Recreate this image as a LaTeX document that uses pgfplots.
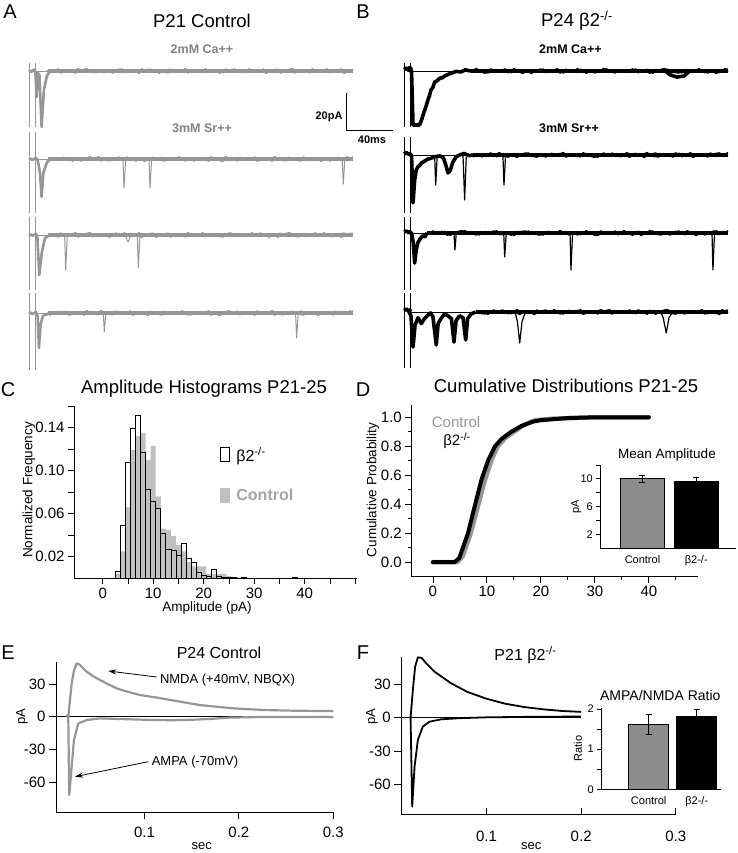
\documentclass[border=0pt]{standalone}
\usepackage{fontspec}
\setmainfont{Liberation Sans}
\usepackage{pgfplots}
\pgfplotsset{compat=1.18}
\usepackage{pgfplotstable}
\usetikzlibrary{arrows.meta}

\definecolor{tg}{RGB}{150,150,150}
\definecolor{lg}{RGB}{130,130,130}
\definecolor{hg}{RGB}{192,192,192}
\definecolor{lcg}{RGB}{165,165,165}
\definecolor{cg}{RGB}{150,150,150}
\definecolor{ig}{RGB}{140,140,140}
\newcommand{\fs}[1]{\fontsize{#1pt}{#1pt}\selectfont}

\pgfplotstableread{
t t2 n1 n2 n3 n4
15 17.5 0.2 -1.3 -0.5 -1.1
20 22.5 -0.8 0.6 0.2 0.4
25 27.5 1.1 -0.3 -1.1 -0.6
30 32.5 -0.4 1.0 0.9 0.9
35 37.5 0.9 -0.8 -0.3 -1.2
40 42.5 -1.2 0.2 1.3 0.2
45 47.5 0.5 -1.2 -0.7 -0.7
50 52.5 1.3 0.9 0.5 1.3
55 57.5 -0.6 -0.4 -1.0 -0.4
60 62.5 0.3 1.3 0.8 -1.0
65 67.5 -1.0 -0.7 0.1 0.6
70 72.5 0.8 -1.0 -1.2 -0.3
75 77.5 -0.2 0.5 1.1 1.1
80 82.5 1.2 -0.2 -0.4 -0.9
85 87.5 -0.9 1.1 0.6 0.5
90 92.5 0.4 -0.9 -0.9 -1.2
95 97.5 -1.3 0.3 1.2 0.8
100 102.5 0.7 -1.3 -0.2 -0.2
105 107.5 1.0 0.7 0.7 1.0
110 112.5 -0.5 -0.5 -1.3 -0.6
115 117.5 0.2 1.0 0.4 -1.1
120 122.5 -1.1 -0.8 1.0 0.7
125 127.5 0.9 -0.1 -0.6 -0.4
130 132.5 -0.3 1.2 0.3 -0.2
135 137.5 1.3 -1.1 -1.1 0.8
140 142.5 -0.7 0.4 0.9 -1.1
145 147.5 0.5 -0.6 -0.5 0.4
150 152.5 -1.0 0.9 1.2 -0.9
155 157.5 0.8 -1.2 -0.8 1.2
160 162.5 0.1 0.2 0.2 -0.5
165 167.5 -1.2 -0.7 -1.0 -1.3
170 172.5 1.1 1.3 0.6 0.6
175 177.5 -0.4 -0.4 1.1 -0.3
180 182.5 0.6 -1.0 -0.7 1.0
185 187.5 -0.9 0.6 0.4 -0.8
190 192.5 1.2 -0.3 0.2 0.2
195 197.5 -0.2 1.1 -0.8 -1.2
200 202.5 0.7 -0.9 1.1 0.9
205 207.5 -1.3 0.5 -0.4 -0.4
210 212.5 0.4 -1.2 0.9 1.3
215 217.5 1.0 0.8 -1.2 -0.7
220 222.5 -0.6 -0.2 0.5 -1.0
225 227.5 0.3 1.0 1.3 0.5
230 232.5 -1.1 -0.6 -0.6 -0.2
235 237.5 0.9 -1.1 0.3 1.1
240 242.5 -0.5 0.7 -1.0 -0.9
245 247.5 1.2 -0.4 0.8 0.3
250 252.5 -0.8 -0.2 -0.2 -1.3
255 257.5 0.2 0.8 1.2 0.7
260 262.5 -1.0 -1.1 -0.9 -0.5
265 267.5 0.6 0.4 0.4 1.0
270 272.5 1.1 -0.9 -1.3 -0.8
275 277.5 -0.7 1.2 0.7 -0.1
280 280 0.4 -0.5 1.0 1.2
}\noise

\pgfplotsset{
  trace/.style={hide axis, x=1.157pt, y=1.915pt, xmin=0, xmax=280, ymin=-40, ymax=20, clip=false, anchor=south west},
  stim/.style={line width=0.8pt},
  bandA/.style={tg, line width=1.1pt, line join=round},
  bandB/.style={black, line width=1.4pt, line join=round},
  flatA/.style={tg, line width=4pt},
  flatB/.style={black, line width=4.4pt},
  earlyA/.style={tg, line width=2.6pt, line join=round},
  earlyB/.style={black, line width=3.6pt, line join=round},
  spkA/.style={tg, line width=1pt, line join=round},
  spkB/.style={black, line width=1.2pt, line join=round},
  panel/.style={anchor=south west, scale only axis, axis lines=left, axis line style={-, line width=1pt},
    every outer x axis line/.append style={-}, every outer y axis line/.append style={-},
    tick style={black, line width=0.8pt}, tick align=outside, major tick length=6pt, minor tick length=3pt,
    ticklabel style={font=\fs{15}}, clip=false},
  inset/.style={anchor=south west, scale only axis, axis lines=left, axis line style={-, line width=1pt},
    every outer x axis line/.append style={-}, every outer y axis line/.append style={-},
    tick style={black, line width=0.8pt}, tick align=outside, major tick length=4pt,
    ticklabel style={font=\fs{11}}, major x tick style={draw=none}, clip=false},
}

\begin{document}
\begin{tikzpicture}[x=1pt,y=1pt]
\path[use as bounding box] (0,0) rectangle (737,853);

% ---------------- Panel A traces ----------------
\begin{axis}[trace, at={(29pt,705.4pt)}]
\addplot[tg, stim] coordinates {(0,4.2) (0,-29.2)};
\addplot[tg, stim] coordinates {(5.8,4.2) (5.8,-29.2)};
\addplot[tg, line width=0.6pt] coordinates {(0,0) (17,0)};
\addplot[earlyA] coordinates {(0,0.5) (2,-0.5) (4,0.8) (5.5,0) (6.6,-13.6) (7.6,-1) (9,-2) (10.9,-29.2) (12.9,-9.9) (15.3,-3) (18,0)};
\addplot[flatA] coordinates {(16,0) (280,0)};
\addplot[bandA] table[x=t,y=n1] {\noise};
\addplot[bandA] table[x=t2,y=n3] {\noise};
\addplot[black, line width=1pt] coordinates {(274.6,-11.3) (274.6,-31.3) (314.6,-31.3)};
\end{axis}

\begin{axis}[trace, at={(29pt,617.4pt)}]
\addplot[tg, stim] coordinates {(0,14.1) (0,-28.2)};
\addplot[tg, stim] coordinates {(5.8,14.1) (5.8,-28.2)};
\addplot[tg, line width=0.6pt] coordinates {(0,0) (17,0)};
\addplot[earlyA] coordinates {(0,0.5) (3,-0.5) (6,0.6) (7.5,-0.5) (9.5,-7.3) (10.9,-19.8) (12.4,-7.3) (15.3,-2.1) (18,0)};
\addplot[flatA] coordinates {(16,0) (280,0)};
\addplot[bandA] table[x=t,y=n2] {\noise};
\addplot[bandA] table[x=t2,y=n4] {\noise};
\addplot[spkA] coordinates {(81.2,0) (82.1,-15.1) (83.6,0)};
\addplot[spkA] coordinates {(103.7,0) (104.6,-15.1) (106,0)};
\addplot[spkA] coordinates {(270.7,0) (271.6,-13.1) (273,0)};
\end{axis}

\begin{axis}[trace, at={(29pt,541.4pt)}]
\addplot[tg, stim] coordinates {(0,9.4) (0,-28.7)};
\addplot[tg, stim] coordinates {(5.8,9.4) (5.8,-28.7)};
\addplot[tg, line width=0.6pt] coordinates {(0,0) (17,0)};
\addplot[earlyA] coordinates {(0,0.5) (3,-0.3) (6,0.6) (7.2,-1) (8.9,-20.9) (11,-9.4) (13.8,-1.6) (18,0)};
\addplot[flatA] coordinates {(16,0) (280,0)};
\addplot[bandA] table[x=t,y=n3] {\noise};
\addplot[bandA] table[x=t2,y=n1] {\noise};
\addplot[spkA] coordinates {(30.8,0) (31.7,-18.3) (33.1,0)};
\addplot[spkA] coordinates {(83,0) (85.6,-3.7) (88,0)};
\addplot[spkA] coordinates {(93.6,0) (94.5,-17.2) (95.9,0)};
\end{axis}

\begin{axis}[trace, at={(29pt,463.4pt)}]
\addplot[tg, stim] coordinates {(0,10.4) (0,-29.8)};
\addplot[tg, stim] coordinates {(5.8,10.4) (5.8,-29.8)};
\addplot[tg, line width=0.6pt] coordinates {(0,0) (17,0)};
\addplot[earlyA] coordinates {(0,0.5) (3,-0.5) (6,0.5) (7.5,-2) (8.6,-18.3) (10,-6) (12,-1.5) (18,0)};
\addplot[flatA] coordinates {(16,0) (280,0)};
\addplot[bandA] table[x=t,y=n4] {\noise};
\addplot[bandA] table[x=t2,y=n2] {\noise};
\addplot[spkA] coordinates {(64.2,0) (65.1,-9.9) (66.5,0)};
\addplot[spkA] coordinates {(230.4,0) (231.3,-13) (232.7,0)};
\end{axis}

% ---------------- Panel B traces ----------------
\begin{axis}[trace, at={(404pt,705.4pt)}]
\addplot[black, stim] coordinates {(0,4.2) (0,-29.2)};
\addplot[black, stim] coordinates {(5.2,4.2) (5.2,-29.2)};
\addplot[black, line width=0.5pt] coordinates {(5,0) (280,0)};
\addplot[black, only marks, mark=*, mark size=3pt] coordinates {(4.9,1)};
\addplot[earlyB] coordinates {(0,0.8) (2,1.5) (4,0.5) (6.5,0) (7.8,-28.2) (13.5,-28.2) (15.5,-25) (17.3,-21.4) (18.5,-19.5) (20.7,-15.1) (22,-13) (23.3,-9.9) (25,-8.5) (26.5,-5.7) (28.5,-5.2) (31.1,-3.7) (33,-3.6) (35.2,-2.6) (38,-1.8) (41.5,-1) (45,-0.2) (49.3,-0.5) (53,0.6) (57,0)};
\addplot[flatB] coordinates {(57,0) (280,0)};
\addplot[bandB, restrict x to domain=57:280] table[x=t,y=n3] {\noise};
\addplot[bandB, restrict x to domain=57:280] table[x=t2,y=n2] {\noise};
\addplot[earlyB] coordinates {(226,0) (230,-2) (236,-3.2) (242,-2.6) (247,0)};
\end{axis}

\begin{axis}[trace, at={(404pt,621.4pt)}]
\addplot[black, stim] coordinates {(0,9.4) (0,-30.3)};
\addplot[black, stim] coordinates {(5.2,9.4) (5.2,-30.3)};
\addplot[black, line width=0.5pt] coordinates {(5,0) (280,0)};
\addplot[black, only marks, mark=*, mark size=2pt] coordinates {(4.9,0.5)};
\addplot[earlyB] coordinates {(0,0.5) (2,1.2) (4,0.4) (6.5,0) (7.8,-25) (9.2,-13.1) (10.5,-8) (12.1,-6.1) (13.5,-5.5) (15,-4.2) (17,-3.5) (20.7,-2.1) (23,-1.8) (26.5,-0.9) (31,-0.5) (34,-1.5) (36,-5) (38,-9.4) (40,-8) (42,-4) (45,-1) (48,0) (52,0.8) (56,-0.3) (60,0)};
\addplot[spkB] coordinates {(26.5,-0.9) (27.4,-15.7) (28.6,-1.5)};
\addplot[spkB] coordinates {(51,-0.3) (52.4,-23.5) (53.8,-1)};
\addplot[flatB] coordinates {(60,0) (280,0)};
\addplot[bandB, restrict x to domain=60:280] table[x=t,y=n4] {\noise};
\addplot[bandB, restrict x to domain=60:280] table[x=t2,y=n1] {\noise};
\addplot[spkB] coordinates {(85.5,0) (86.4,-15.7) (87.8,0)};
\end{axis}

\begin{axis}[trace, at={(404pt,543.4pt)}]
\addplot[black, stim] coordinates {(0,8.4) (0,-29.8)};
\addplot[black, stim] coordinates {(5.2,8.4) (5.2,-29.8)};
\addplot[black, line width=0.5pt] coordinates {(5,0) (280,0)};
\addplot[black, only marks, mark=*, mark size=2pt] coordinates {(4.9,0.5)};
\addplot[earlyB] coordinates {(0,0.5) (2,1) (4,0.3) (6.5,0) (8,-5) (9.2,-15.7) (10.5,-9) (12,-5) (14,-3) (16,-1.5) (18,-2) (20,0)};
\addplot[flatB] coordinates {(20,0) (280,0)};
\addplot[bandB, restrict x to domain=20:280] table[x=t,y=n1] {\noise};
\addplot[bandB, restrict x to domain=20:280] table[x=t2,y=n4] {\noise};
\addplot[spkB] coordinates {(43.2,0) (44,-8.9) (45.2,0)};
\addplot[spkB] coordinates {(86.2,0) (87,-12.5) (88.4,0)};
\addplot[spkB] coordinates {(143.5,0) (144.3,-19.3) (145.7,0)};
\addplot[spkB] coordinates {(266.2,0) (267,-19.3) (268.4,0)};
\end{axis}

\begin{axis}[trace, at={(404pt,464.4pt)}]
\addplot[black, stim] coordinates {(0,9.9) (0,-29.2)};
\addplot[black, stim] coordinates {(5.2,9.9) (5.2,-29.2)};
\addplot[black, line width=0.5pt] coordinates {(5,0) (280,0)};
\addplot[black, only marks, mark=*, mark size=2pt] coordinates {(4.9,0.8)};
\addplot[earlyB] coordinates {(0,0.8) (2,1.5) (4,0.5) (6,-2) (7.8,-18.3) (9.5,-7) (12,-3) (15,-6) (17,-4) (20,-2) (23,-0.5) (25,-2.5) (27.9,-17.2) (29.5,-6) (32,-3.5) (35,-1) (38,-2) (41,-3.5) (43.2,-15.7) (45,-4.5) (48,-2) (51,-3) (53.3,-14.6) (55,-3.5) (58,-1) (62,0)};
\addplot[flatB] coordinates {(62,0) (280,0)};
\addplot[bandB, restrict x to domain=62:280] table[x=t,y=n2] {\noise};
\addplot[bandB, restrict x to domain=62:280] table[x=t2,y=n3] {\noise};
\addplot[spkB] coordinates {(96,0) (98,-5) (100,-16.2) (102,-5) (105,0)};
\addplot[spkB] coordinates {(222,0) (224,-3) (226.7,-11) (229,-3) (232,0)};
\end{axis}

% ---------------- Panel C ----------------
\begin{axis}[panel, at={(74pt,274.8pt)}, width=283pt, height=172.2pt,
  xmin=-5.68, xmax=50.36, ymin=0, ymax=0.16,
  xtick={0,5,10,15,20,25,30,35,40,45,50}, xticklabels={0,,10,,20,,30,,40,,},
  ytick={0.02,0.04,0.06,0.08,0.10,0.12,0.14,0.16}, yticklabels={0.02,,0.06,,0.10,,0.14,},
  reverse legend,
  legend style={at={(0.515,0.775)}, anchor=north west, draw=none, fill=none, font=\fs{16}, row sep=22pt, inner sep=0pt},
  legend cell align=left]
\addplot[ybar, bar width=1, bar shift=0pt, fill=hg, draw=none, forget plot] coordinates {
(3,0.004) (4,0.025) (5,0.066) (6,0.119) (7,0.132) (8,0.135) (9,0.110) (10,0.123) (11,0.076) (12,0.046) (13,0.045) (14,0.039) (15,0.031) (16,0.025) (17,0.015) (18,0.011) (19,0.011) (20,0.011) (21,0.004) (22,0.004) (23,0.004) (24,0.004) (25,0.002) (26,0.001) (27,0.001) (38,0.001)};
\addplot[ybar, bar width=1, bar shift=0pt, draw=black, fill=none, line width=0.7pt, forget plot] coordinates {
(3,0.006) (4,0.049) (5,0.108) (6,0.139) (7,0.151) (8,0.117) (9,0.083) (10,0.071) (11,0.065) (12,0.042) (13,0.027) (14,0.026) (15,0.021) (16,0.032) (17,0.018) (18,0.015) (19,0.005) (20,0.003) (21,0.002) (22,0.008) (23,0.002) (24,0.001) (25,0.001) (26,0.001) (28,0.001) (38,0.001)};
\addlegendimage{legend image code/.code={\fill[hg] (0pt,-7pt) rectangle (9pt,7pt); \path[draw=none, fill=none] (0pt,0pt) -- (14pt,0pt);}}
\addlegendentry{\textcolor{lcg}{\bfseries Control}}
\addlegendimage{legend image code/.code={\draw[black, line width=0.9pt] (0pt,-7pt) rectangle (9pt,7pt); \path[draw=none, fill=none] (0pt,0pt) -- (14pt,0pt);}}
\addlegendentry{β2\textsuperscript{-/-}}
\end{axis}

% ---------------- Panel D ----------------
\begin{axis}[panel, at={(411.3pt,276.3pt)}, width=286.7pt, height=171.7pt,
  xmin=-4, xmax=49.1, ymin=-0.1, ymax=1.085,
  xtick={0,10,20,30,40}, xticklabels={0,10,20,30,40}, minor xtick={5,15,25,35,45},
  ytick={0,0.2,0.4,0.6,0.8,1.0}, yticklabels={0.0,0.2,0.4,0.6,0.8,1.0}, minor ytick={0.1,0.3,0.5,0.7,0.9}]
\addplot[cg, line width=4.5pt, line cap=round, line join=round] coordinates {
(0,0) (4.5,0) (5.5,0.04) (7,0.2) (8.3,0.38) (9.5,0.55) (10.8,0.7) (12,0.8) (13.5,0.86) (15,0.9) (17,0.95) (19,0.98) (22,0.99) (30,1) (40,1)};
\addplot[black, line width=4pt, line cap=round, line join=round] coordinates {
(0,0) (4,0) (4.9,0.03) (6.5,0.2) (7.7,0.38) (9,0.57) (10.2,0.7) (11.5,0.8) (12.7,0.85) (14.5,0.9) (16.4,0.94) (18.5,0.97) (20,0.98) (25,0.995) (30,1) (40,1)};
\end{axis}

\begin{axis}[inset, at={(600.3pt,304.7pt)}, width=135.7pt, height=83.3pt,
  xmin=0.216, xmax=2.738, ymin=0, ymax=12,
  xtick={1,2}, xticklabels={Control,β2-/-},
  ytick={2,4,6,8,10,12}, yticklabels={2,,6,,10,}]
\addplot[ybar, bar width=0.825, bar shift=0pt, fill=ig, draw=black, line width=0.8pt,
  error bars/.cd, y dir=both, y explicit, error bar style={black, line width=1pt}, error mark options={black, rotate=90, mark size=3pt, line width=1pt}]
  coordinates {(1,10.0) +- (0,0.45)};
\addplot[ybar, bar width=0.825, bar shift=0pt, fill=black, draw=black, line width=0.8pt,
  error bars/.cd, y dir=plus, y explicit, error bar style={black, line width=1pt}, error mark options={black, rotate=90, mark size=3pt, line width=1pt}]
  coordinates {(2,9.6) +- (0,0.6)};
\end{axis}

% ---------------- Panel E ----------------
\begin{axis}[panel, at={(56pt,40.7pt)}, width=277.3pt, height=150.6pt,
  xmin=0.0063, xmax=0.3, ymin=-87.7, ymax=50.5, major tick length=7pt,
  xtick={0.1,0.2,0.3}, xticklabels={0.1,0.2,0.3},
  ytick={-60,-30,0,30}, yticklabels={-60,-30,0,30},
  xticklabel style={yshift=-4pt}]
\addplot[black, line width=0.7pt] coordinates {(0.0063,0) (0.3,0)};
\addplot[cg, line width=2.2pt, line join=round] coordinates {
(0.0175,0) (0.0185,1.5) (0.0193,0) (0.0203,-71.8) (0.0229,-45.9) (0.0253,-21.4) (0.0299,-6.1) (0.0388,-3) (0.0529,-1.5) (0.07,-2) (0.09,-2.5) (0.11,-3) (0.13,-3.2) (0.15,-2.8) (0.17,-2) (0.19,-0.8) (0.22,-0.3) (0.26,-0.2) (0.3,-0.3)};
\addplot[cg, line width=2.2pt, line join=round] coordinates {
(0.0193,0) (0.0229,30.6) (0.0253,42.2) (0.0282,49) (0.031,48) (0.0388,41.3) (0.045,37.5) (0.0529,33.7) (0.06,30.5) (0.0706,26) (0.08,23.5) (0.0952,19.9) (0.11,18) (0.1235,16) (0.14,13.5) (0.1588,10.7) (0.175,9.3) (0.1941,7.7) (0.21,6.9) (0.2294,6.1) (0.26,5.5) (0.3,5.2)};
\end{axis}

% ---------------- Panel F ----------------
\begin{axis}[panel, at={(401.3pt,38pt)}, width=275pt, height=158.3pt,
  xmin=0.010, xmax=0.3005, ymin=-87.3, ymax=54.7, major tick length=7pt,
  xtick align=inside,
  xtick={0.1,0.2,0.3}, xticklabels={0.1,0.2,0.3},
  ytick={-60,-30,0,30}, yticklabels={-60,-30,0,30},
  xticklabel style={yshift=-12pt}]
\addplot[black, line width=0.7pt] coordinates {(0.010,0) (0.2,0)};
\addplot[black, line width=1.8pt, line join=round] coordinates {
(0.0190,0) (0.0198,0) (0.0215,-79.8) (0.024,-44) (0.0275,-20) (0.0327,-8) (0.0398,-3.6) (0.052,-1.5) (0.07,-0.5) (0.1,0.3) (0.15,0.8) (0.2,1)};
\addplot[black, line width=1.8pt, line join=round] coordinates {
(0.0198,0) (0.0222,24.8) (0.0246,45.7) (0.0275,54.2) (0.0317,53.5) (0.0362,48.8) (0.045,41.3) (0.0625,30.9) (0.08,23) (0.1,17) (0.12,12.5) (0.14,9.5) (0.16,7.5) (0.18,6) (0.2,5.2)};
\end{axis}

\begin{axis}[inset, at={(601.3pt,63.7pt)}, width=120pt, height=81pt,
  xmin=0.015, xmax=2.51, ymin=0, ymax=2.02,
  xtick={1,2}, xticklabels={Control,β2-/-},
  ytick={0,0.5,1,1.5,2}, yticklabels={0,,1,,2}]
\addplot[ybar, bar width=0.83, bar shift=0pt, fill=ig, draw=black, line width=0.8pt,
  error bars/.cd, y dir=both, y explicit, error bar style={black, line width=1pt}, error mark options={black, rotate=90, mark size=3pt, line width=1pt}]
  coordinates {(1,1.62) +- (0,0.25)};
\addplot[ybar, bar width=0.83, bar shift=0pt, fill=black, draw=black, line width=0.8pt,
  error bars/.cd, y dir=plus, y explicit, error bar style={black, line width=1pt}, error mark options={black, rotate=90, mark size=3pt, line width=1pt}]
  coordinates {(2,1.81) +- (0,0.18)};
\end{axis}

% ---------------- Text ----------------
\node[font=\fs{20}] at (10,841) {A};
\node[font=\fs{20}] at (363,841) {B};
\node[font=\fs{18.5}] at (202,832) {P21 Control};
\node[font=\fs{18.5}] at (577,832) {P24 β2\textsuperscript{-/-}};
\node[font=\bfseries\fs{12.5}, text=lg] at (202,804) {2mM Ca++};
\node[font=\bfseries\fs{12.5}, text=lg] at (202,725) {3mM Sr++};
\node[font=\bfseries\fs{12.5}] at (570.5,804) {2mM Ca++};
\node[font=\bfseries\fs{12.5}] at (569,725) {3mM Sr++};
\node[font=\bfseries\fs{11}] at (329,736) {20pA};
\node[font=\bfseries\fs{11}] at (372,713) {40ms};

\node[font=\fs{20}] at (8,463) {C};
\node[font=\fs{18.5}] at (204,464) {Amplitude Histograms P21-25};
\node[font=\fs{13.5}] at (207,245) {Amplitude (pA)};
\node[font=\fs{13.5}, rotate=90] at (29,363) {Normalized Frequency};

\node[font=\fs{20}] at (363,463) {D};
\node[font=\fs{18.5}] at (566,467) {Cumulative Distributions P21-25};
\node[font=\fs{13.5}, rotate=90] at (373,363) {Cumulative Probability};
\node[font=\fs{15}, text=cg, inner sep=0pt] at (456,431) {Control};
\node[font=\fs{15}, inner sep=0pt] at (457,412) {β2\textsuperscript{-/-}};
\node[font=\fs{13.5}] at (667,398) {Mean Amplitude};
\node[font=\fs{11}, rotate=90] at (576.3,346.3) {pA};

\node[font=\fs{20}] at (8,200) {E};
\node[font=\fs{16}] at (219,200) {P24 Control};
\node[font=\fs{13}, rotate=90] at (22,136.3) {pA};
\node[font=\fs{13}] at (201.7,7) {sec};
\node[font=\fs{13}] at (227.5,173) {NMDA (+40mV, NBQX)};
\node[font=\fs{13}] at (195,91) {AMPA (-70mV)};
\draw[-{Stealth[length=8pt,width=5pt]}, line width=0.8pt] (156.7,176) -- (108.3,182);
\draw[-{Stealth[length=8pt,width=5pt]}, line width=0.8pt] (148.3,91.3) -- (75,76.3);

\node[font=\fs{20}] at (363,200) {F};
\node[font=\fs{16}] at (525.5,198) {P21 β2\textsuperscript{-/-}};
\node[font=\fs{13}, rotate=90] at (372,136) {pA};
\node[font=\fs{13}] at (531.3,7) {sec};
\node[font=\fs{14}] at (660.3,158) {AMPA/NMDA Ratio};
\node[font=\fs{11}, rotate=90] at (578,104.7) {Ratio};
\end{tikzpicture}
\end{document}
